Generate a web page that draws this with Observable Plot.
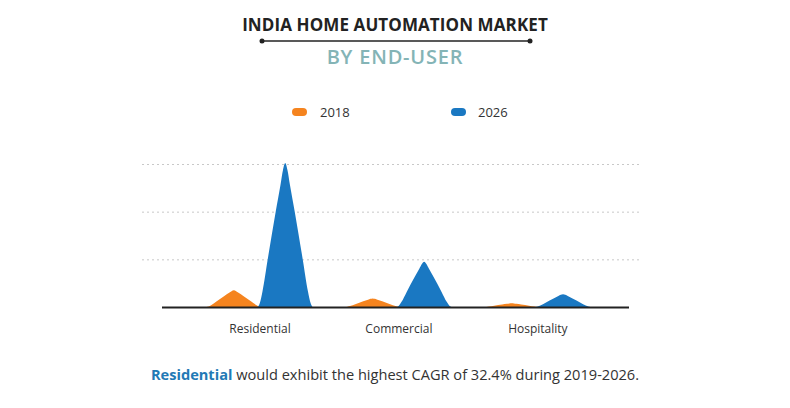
<!DOCTYPE html>
<html><head><meta charset="utf-8">
<script src="https://cdn.jsdelivr.net/npm/d3@7"></script>
<script src="https://cdn.jsdelivr.net/npm/@observablehq/plot@0.6"></script>
<style>
body{margin:0;background:#fff;font-family:"Open Sans",sans-serif;}
#wrap{position:relative;width:790px;height:408px;overflow:hidden;background:#fff;}
.center{position:absolute;left:0;width:790px;text-align:center;white-space:nowrap;}
#title{top:15px;font-size:17px;line-height:20px;font-weight:700;color:#222;letter-spacing:0.1px;}
#subtitle{top:45px;font-size:20px;line-height:24px;font-weight:600;color:#84b4b6;letter-spacing:0.8px;}
#rule{position:absolute;left:0;top:36px;}
#legend{position:absolute;top:104px;left:0;width:790px;height:16px;font-size:13px;line-height:16px;color:#333;}
.sw{position:absolute;top:4px;width:15px;height:8px;border-radius:4px;}
.lt{position:absolute;top:0;}
#chart{position:absolute;left:0;top:140px;}
#caption{top:364px;font-size:14.6px;line-height:20px;color:#333;}
#caption b{color:#2279b5;font-weight:700;}
</style></head><body>
<div id="wrap">
  <div id="title" class="center">INDIA HOME AUTOMATION MARKET</div>
  <svg id="rule" width="790" height="10"><line x1="262" x2="530" y1="5" y2="5" stroke="#222" stroke-width="1.5"/><circle cx="262" cy="5" r="2.5" fill="#222"/><circle cx="530" cy="5" r="2.5" fill="#222"/></svg>
  <div id="subtitle" class="center">BY END-USER</div>
  <div id="legend"></div>
  <div id="chart"></div>
  <div id="caption" class="center"><b>Residential</b> would exhibit the highest CAGR of 32.4% during 2019-2026.</div>
</div>
<script>
// ---- data ----
const categories = ["Residential", "Commercial", "Hospitality"];
const years = ["2018", "2026"];
const values2018 = [35, 18, 8];
const values2026 = [302, 95, 27];
const gridTicks = [100, 200, 300];

// ---- style ----
const colors = {"2018": "#f5841f", "2026": "#1a78c2"};
const yearOffset = {"2018": -0.185, "2026": 0.185};
const halfBase = 0.182;
// peak silhouette: relative offset from peak centre -> fraction of peak height
const halfProfile = [[0, 1], [0.09, 0.95], [0.186, 0.85], [0.375, 0.664], [0.69, 0.334], [0.9, 0.108], [1.0, 0.03], [1.08, 0]];
const profile = halfProfile.slice(1).reverse().map(([u, f]) => [-u, f]).concat(halfProfile);

const series = {"2018": values2018, "2026": values2026};
const rows = [];
years.forEach(yr => {
  categories.forEach((c, i) => {
    const v = series[yr][i];
    profile.forEach(([u, f]) => {
      rows.push({key: c + yr, year: yr, x: i + yearOffset[yr] + u * halfBase, y: v * f});
    });
  });
});

// legend
const legend = document.getElementById("legend");
const legPos = {"2018": [292, 320], "2026": [451, 478]};
years.forEach(yr => {
  const sw = document.createElement("div");
  sw.className = "sw"; sw.style.left = legPos[yr][0] + "px"; sw.style.background = colors[yr];
  const t = document.createElement("div");
  t.className = "lt"; t.style.left = legPos[yr][1] + "px"; t.textContent = yr;
  legend.appendChild(sw); legend.appendChild(t);
});

const chart = Plot.plot({
  width: 790,
  height: 210,
  marginLeft: 142,
  marginRight: 150,
  marginTop: 24,
  marginBottom: 43,
  style: {fontFamily: "Open Sans, sans-serif", background: "transparent"},
  x: {domain: [-0.846, 2.739], axis: null},
  y: {domain: [0, 300], axis: null},
  color: {domain: years, range: years.map(y => colors[y])},
  marks: [
    Plot.gridY(gridTicks, {stroke: "#c8c8c8", strokeOpacity: 1, strokeDasharray: "2,3", strokeWidth: 1}),
    Plot.areaY(rows, {x: "x", y: "y", z: "key", fill: "year", curve: "monotone-x"}),
    Plot.ruleY([0], {stroke: "#222", strokeWidth: 2, insetLeft: 20, insetRight: 11}),
    Plot.text(categories, {x: (d, i) => i, y: () => 0, text: d => d, dy: 22, fontSize: 12, fill: "#333"})
  ]
});
document.getElementById("chart").appendChild(chart);
</script>
</body></html>
